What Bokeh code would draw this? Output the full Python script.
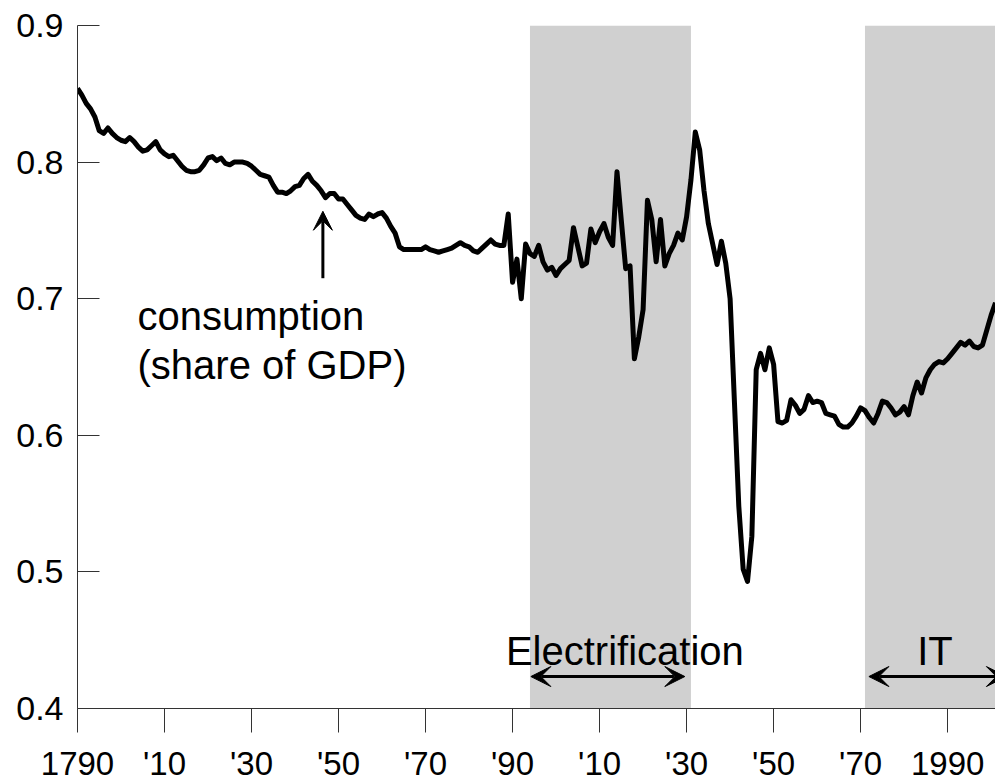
from bokeh.plotting import figure
from bokeh.models import FixedTicker, Range1d, Arrow, VeeHead, Label
from bokeh.embed import file_html
from bokeh.resources import INLINE

# ---------------- data ----------------
years = list(range(1790, 2002))
consumption_share = [
    # 1790s
    0.854, 0.849, 0.843, 0.839, 0.833, 0.823, 0.821, 0.825, 0.821, 0.818,
    # 1800s
    0.816, 0.815, 0.818, 0.815, 0.811, 0.808, 0.809, 0.812, 0.815, 0.809,
    # 1810s
    0.806, 0.804, 0.805, 0.801, 0.797, 0.794, 0.793, 0.793, 0.794, 0.798,
    # 1820s
    0.803, 0.804, 0.801, 0.803, 0.799, 0.798, 0.800, 0.800, 0.800, 0.799,
    # 1830s
    0.797, 0.794, 0.791, 0.790, 0.789, 0.783, 0.778, 0.778, 0.777, 0.779,
    # 1840s
    0.782, 0.783, 0.788, 0.791, 0.786, 0.783, 0.779, 0.774, 0.777, 0.777,
    # 1850s
    0.773, 0.773, 0.769, 0.765, 0.761, 0.759, 0.758, 0.762, 0.760, 0.762,
    # 1860s
    0.763, 0.759, 0.753, 0.748, 0.738, 0.736, 0.736, 0.736, 0.736, 0.736,
    # 1870s
    0.738, 0.736, 0.735, 0.734, 0.735, 0.736, 0.737, 0.739, 0.741, 0.739,
    # 1880s
    0.738, 0.735, 0.734, 0.737, 0.740, 0.743, 0.740, 0.739, 0.739, 0.762,
    # 1890s
    0.712, 0.729, 0.700, 0.740, 0.733, 0.731, 0.739, 0.727, 0.721, 0.723,
    # 1900s
    0.717, 0.722, 0.725, 0.728, 0.752, 0.738, 0.724, 0.726, 0.751, 0.741,
    # 1910s
    0.749, 0.755, 0.745, 0.739, 0.793, 0.757, 0.722, 0.724, 0.656, 0.672,
    # 1920s
    0.692, 0.772, 0.758, 0.727, 0.758, 0.724, 0.733, 0.739, 0.748, 0.743,
    # 1930s
    0.760, 0.787, 0.822, 0.809, 0.779, 0.755, 0.740, 0.725, 0.742, 0.726,
    # 1940s
    0.700, 0.624, 0.548, 0.502, 0.493, 0.526, 0.648, 0.660, 0.648, 0.664,
    # 1950s
    0.652, 0.610, 0.609, 0.611, 0.626, 0.622, 0.616, 0.619, 0.629, 0.624,
    # 1960s
    0.625, 0.624, 0.616, 0.615, 0.614, 0.608, 0.606, 0.606, 0.609, 0.614,
    # 1970s
    0.620, 0.618, 0.613, 0.609, 0.616, 0.625, 0.624, 0.620, 0.615, 0.617,
    # 1980s
    0.621, 0.615, 0.629, 0.639, 0.631, 0.642, 0.648, 0.652, 0.654, 0.653,
    # 1990s
    0.656, 0.660, 0.664, 0.668, 0.666, 0.669, 0.665, 0.664, 0.666, 0.677,
    # 2000s
    0.688, 0.697,
]

x_tick_years = [1790, 1810, 1830, 1850, 1870, 1890, 1910, 1930, 1950, 1970, 1990]
x_tick_labels = ["1790", "'10", "'30", "'50", "'70", "'90", "'10", "'30", "'50", "'70", "1990"]
y_ticks = [0.4, 0.5, 0.6, 0.7, 0.8, 0.9]

period_names = ["Electrification", "IT"]
period_start = [1894, 1971]
period_end = [1931, 2001]
period_label_x = [1915.8, 1987.1]
period_arrow_from = [1894.2, 1971.9]
period_arrow_to = [1929.6, 2003.5]

series_label_lines = ["consumption", "(share of GDP)"]

# ---------------- layout ----------------
X_MIN, X_MAX = 1790, 2001
Y_MIN, Y_MAX = 0.4, 0.9
FONT = "Liberation Sans"

p = figure(width=995, height=784, output_backend="svg", toolbar_location=None,
           x_range=Range1d(X_MIN, X_MAX), y_range=Range1d(Y_MIN, Y_MAX),
           min_border_left=77, min_border_right=0, min_border_top=25,
           min_border_bottom=75)
p.outline_line_color = None
p.background_fill_color = "white"
p.border_fill_color = "white"
p.grid.visible = False

# shaded periods
p.quad(left=period_start, right=period_end, bottom=Y_MIN, top=Y_MAX,
       fill_color="#D0D0D0", line_color=None)

# series
p.line(years, consumption_share, line_color="black", line_width=5,
       line_join="round")

# axes
AX_COLOR = "#333333"
p.yaxis.ticker = FixedTicker(ticks=y_ticks)
p.yaxis.major_label_overrides = {t: f"{t:.1f}" for t in y_ticks}
p.yaxis.major_tick_in = 22
p.yaxis.major_tick_out = 0
p.yaxis.minor_tick_line_color = None
p.yaxis.axis_line_color = AX_COLOR
p.yaxis.major_tick_line_color = AX_COLOR
p.yaxis.major_label_text_font = FONT
p.yaxis.major_label_text_font_size = "34px"
p.yaxis.major_label_text_color = "black"
p.yaxis.major_label_standoff = 14

p.xaxis.ticker = FixedTicker(ticks=x_tick_years)
p.xaxis.major_label_overrides = dict(zip(x_tick_years, x_tick_labels))
p.xaxis.major_tick_in = 0
p.xaxis.major_tick_out = 24
p.xaxis.minor_tick_line_color = None
p.xaxis.axis_line_color = AX_COLOR
p.xaxis.major_tick_line_color = AX_COLOR
p.xaxis.major_label_text_font = FONT
p.xaxis.major_label_text_font_size = "33px"
p.xaxis.major_label_text_color = "black"
p.xaxis.major_label_standoff = 12

# series annotation
for line_text, ly in zip(series_label_lines, [0.6873, 0.6515]):
    p.add_layout(Label(x=1803.8, y=ly, text=line_text,
                       text_font=FONT, text_font_size="40px", text_color="black",
                       text_align="left", text_baseline="alphabetic"))
p.add_layout(Arrow(x_start=1846.4, y_start=0.715, x_end=1846.4, y_end=0.764,
                   line_color="black", line_width=3,
                   end=VeeHead(size=19, fill_color="black", line_color="black")))

# period labels and double arrows
for name, lx, a0, a1 in zip(period_names, period_label_x, period_arrow_from, period_arrow_to):
    p.add_layout(Label(x=lx, y=0.4424, text=name, text_font=FONT,
                       text_font_size="40px", text_color="black",
                       text_align="center", text_baseline="alphabetic"))
    p.add_layout(Arrow(x_start=a0, y_start=0.4234, x_end=a1, y_end=0.4234,
                       line_color="black", line_width=3,
                       start=VeeHead(size=20, fill_color="black", line_color="black"),
                       end=VeeHead(size=20, fill_color="black", line_color="black")))

open("out.html", "w").write(file_html(p, INLINE))
